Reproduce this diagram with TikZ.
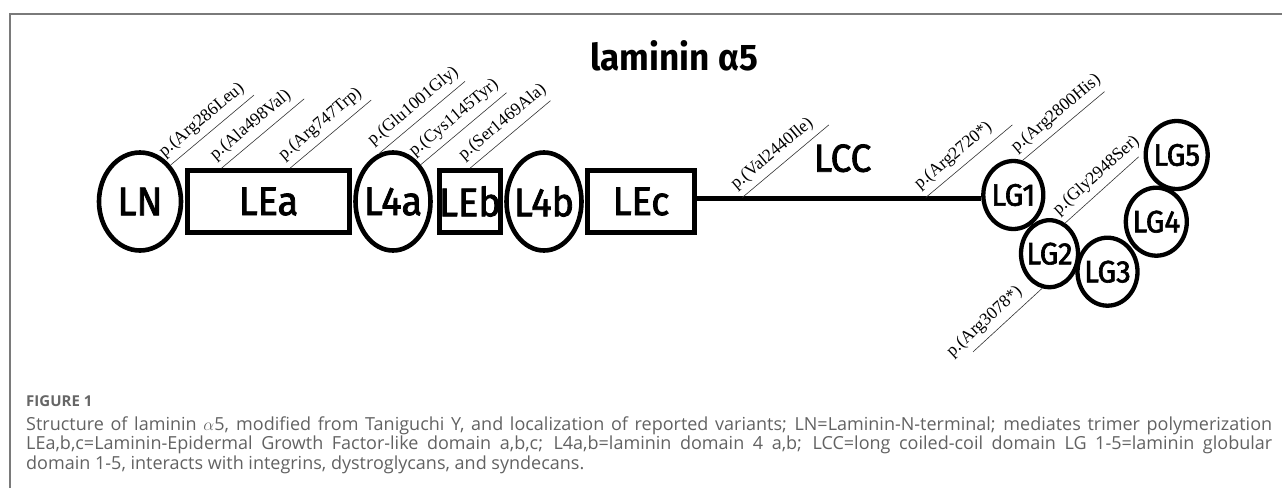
\documentclass[tikz,border=0pt]{standalone}
\usepackage{fontspec}
\setmainfont{Liberation Serif}
\newfontfamily\domfont[FakeStretch=0.95,FakeBold=2]{Fira Sans}
\newfontfamily\titlefont[FakeStretch=0.95]{Fira Sans}
\newfontfamily\capfont{Open Sans}
\usetikzlibrary{shapes.geometric,calc}
\definecolor{framegray}{HTML}{7A7A7A}
\definecolor{capgray}{HTML}{626262}
\definecolor{figgray}{HTML}{666666}

\begin{document}
\begin{tikzpicture}[x=1pt,y=-1pt,
  domlab/.style={inner sep=0pt, font=\domfont\fontsize{40}{40}\selectfont},
  lglab/.style={inner sep=0pt, font=\domfont\fontsize{31}{31}\selectfont},
  domrect/.style={draw=black, rectangle, line width=4.6pt, minimum height=62pt,
    inner sep=0pt, label={[domlab]center:#1}},
  domell/.style={draw=black, ellipse, line width=4.6pt, minimum width=75pt,
    minimum height=98pt, inner sep=0pt, label={[domlab]center:#1}},
  lgell/.style={draw=black, ellipse, line width=4.3pt, minimum width=60pt,
    minimum height=68pt, inner sep=0pt, label={[lglab]center:#1}},
  var/.style={draw=black!80, line width=0.6pt},
  varfont/.style={font=\fontsize{17.5}{17.5}\selectfont},
  varlab/.style={varfont, sloped, anchor=south west, inner xsep=0pt, inner ysep=6pt},
  captxt/.style={anchor=base west, inner sep=0pt, text=capgray,
    font=\capfont\fontsize{18}{18}\selectfont},
]
\useasboundingbox (0,0) rectangle (1282,488);

% frame
\draw[framegray, line width=1.2pt] (10,488) -- (10,14) -- (1282,14);

% title
\node[anchor=base, inner sep=0pt, font=\titlefont\bfseries\fontsize{37}{37}\selectfont]
  (title) at (674,70) {laminin α5};

% domains
\node[domell=LN, minimum width=82pt] (LN) at (140,201.5) {};
\node[domrect=LEa, minimum width=162pt] (LEa) at (268.5,201.5) {};
\node[domell=L4a] (L4a) at (393,201.5) {};
\node[domrect=LEb, minimum width=61pt] (LEb) at (470,201.5) {};
\node[domell=L4b] (L4b) at (544,201.5) {};
\node[domrect=LEc, minimum width=107pt] (LEc) at (641,201.5) {};

% globular domains
\node[lgell=LG1] (LG1) at (1013.3,195) {};
\node[lgell=LG2, minimum width=57pt, minimum height=67pt] (LG2) at (1049.5,253.7) {};
\node[lgell=LG3] (LG3) at (1107.5,271.7) {};
\node[lgell=LG4, minimum width=61pt] (LG4) at (1156.3,221.7) {};
\node[lgell=LG5, minimum width=62pt] (LG5) at (1176.7,155) {};

% coiled-coil rod
\coordinate (lccL) at ($(LEc.east)+(0,-3)$);
\coordinate (lccR) at (lccL -| LG1.west);
\draw[line width=4.6pt] (lccL) -- (lccR);
\node[domlab, anchor=base, font=\domfont\fontsize{39}{39}\selectfont] (LCC) at (842.5,171.7) {LCC};

% variant positions
\coordinate (v2) at ($(LEa.north)+(-47,0)$);
\coordinate (v3) at ($(LEa.north)+(21.5,0)$);
\coordinate (v7) at ($(lccL)+(45.5,-1)$);
\coordinate (v8) at ($(lccL)+(229,-1)$);
\coordinate (v11) at ($(LG2.258)+(137.4:94)$);
\coordinate (v11t) at ($(v11)+(137.4:19)$);

\draw[var] (LN.50) -- ++(-40:109) node[varlab, pos=0] {p.(Arg286Leu)};
\draw[var] (v2) -- ++(-40:108) node[varlab, pos=0] {p.(Ala498Val)};
\draw[var] (v3) -- ++(-40:106) node[varlab, pos=0] {p.(Arg747Trp)};
\draw[var] (L4a.106) -- ++(-40:112) node[varlab, pos=0] {p.(Glu1001Gly)};
\draw[var] (L4a.53) -- ++(-40:112) node[varlab, pos=0] {p.(Cys1145Tyr)};
\draw[var] (LEb.north) -- ++(-40:105) node[varlab, pos=0] {p.(Ser1469Ala)};
\draw[var] (v7) -- ++(-40:113) node[varlab, pos=0] {p.(Val2440Ile)};
\draw[var] (v8) -- ++(-40:113) node[varlab, pos=0] {p.(Arg2720*)};
\draw[var] (LG1.75) -- ++(-40:107) node[varlab, pos=0] {p.(Arg2800His)};
\draw[var] (LG2.63) -- ++(-42:99) node[varlab, pos=0] {p.(Gly2948Ser)};
\draw[var] (v11) -- (LG2.258);
\node[varfont, rotate=42.6, anchor=south west, inner xsep=0pt, inner ysep=6pt]
  (v11lab) at (v11t) {p.(Arg3078*)};

% caption
\node[anchor=base west, inner sep=0pt, text=figgray,
  font=\capfont\bfseries\fontsize{15}{15}\selectfont] (fig) at (26,406) {FIGURE 1};
\node[captxt] (cap1) at (26,430) {\makebox[1246pt][s]{Structure of laminin $\alpha$5, modified from Taniguchi Y, and localization of reported variants; LN=Laminin-N-terminal; mediates trimer polymerization}};
\node[captxt] (cap2) at (26,449.5) {\makebox[1246pt][s]{LEa,b,c=Laminin-Epidermal Growth Factor-like domain a,b,c; L4a,b=laminin domain 4 a,b; LCC=long coiled-coil domain LG 1-5=laminin globular}};
\node[captxt] (cap3) at (26,469) {domain 1-5, interacts with integrins, dystroglycans, and syndecans.};
\end{tikzpicture}
\end{document}
